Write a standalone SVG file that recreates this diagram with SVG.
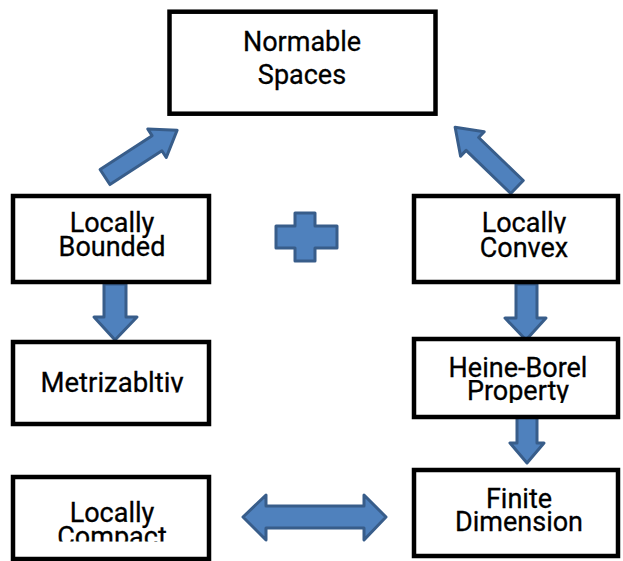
<svg xmlns="http://www.w3.org/2000/svg" width="623" height="561" viewBox="0 0 623 561">
  <style>
    .box { fill: #ffffff; stroke: #000000; stroke-width: 4.5; }
    .lbl { font-family: Roboto, "Liberation Sans", sans-serif; font-size: 27px; font-weight: 400; fill: #000000; stroke: #000000; stroke-width: 0.3; text-anchor: middle; }
    .arr { fill: #4f81bd; stroke: #385d8a; stroke-width: 3; stroke-linejoin: round; }
  </style>
  <defs>
    <clipPath id="cMet"><rect x="0" y="340" width="220" height="52.5"/></clipPath>
    <clipPath id="cHB"><rect x="410" y="380" width="213" height="23"/></clipPath>
    <clipPath id="cLC"><rect x="0" y="524" width="220" height="17.5"/></clipPath>
    <clipPath id="cLCx"><rect x="410" y="200" width="213" height="33.5"/></clipPath>
  </defs>
  <rect width="623" height="561" fill="#ffffff"/>

  <g id="connectors">
    <!-- Locally Bounded -> Normable (diagonal) -->
    <path class="arr" transform="translate(105,177) rotate(-33)" d="M0,-9 L62,-9 L62,-17 L86,0 L62,17 L62,9 L0,9 Z"/>
    <!-- Locally Convex -> Normable (diagonal) -->
    <path class="arr" transform="translate(517,187) rotate(-136)" d="M0,-9 L62,-9 L62,-17 L86,0 L62,17 L62,9 L0,9 Z"/>
    <!-- Locally Bounded -> Metrizability -->
    <path class="arr" d="M104,284 L126,284 L126,317 L137,317 L115,340 L94,317 L104,317 Z"/>
    <!-- Locally Convex -> Heine-Borel -->
    <path class="arr" d="M516,284 L537,284 L537,318 L546,318 L526,340 L505,318 L516,318 Z"/>
    <!-- Heine-Borel -> Finite Dimension -->
    <path class="arr" d="M517,415 L537,415 L537,443 L544,443 L527,463 L510,443 L517,443 Z"/>
    <!-- Locally Compact <-> Finite Dimension -->
    <path class="arr" d="M243,517 L266,495 L266,506 L364,506 L364,495 L386,517 L364,540 L364,528 L266,528 L266,540 Z"/>
    <!-- plus sign -->
    <path class="arr" d="M295,213 L315,213 L315,226 L337,226 L337,248 L315,248 L315,261 L295,261 L295,248 L276,248 L276,226 L295,226 Z"/>
  </g>

  <g id="normable">
    <rect class="box" x="169.5" y="11.7" width="266" height="102"/>
    <text class="lbl" x="302" y="51">Normable</text>
    <text class="lbl" x="302" y="84">Spaces</text>
  </g>

  <g id="locally-bounded">
    <rect class="box" x="13" y="196" width="196" height="86"/>
    <text class="lbl" x="112" y="232">Locally</text>
    <text class="lbl" x="112" y="256">Bounded</text>
  </g>

  <g id="locally-convex">
    <rect class="box" x="414" y="196" width="204" height="86"/>
    <g clip-path="url(#cLCx)"><text class="lbl" x="524" y="232">Locally</text></g>
    <text class="lbl" x="524" y="257">Convex</text>
  </g>

  <g id="metrizability">
    <rect class="box" x="13" y="342" width="196" height="82"/>
    <g clip-path="url(#cMet)"><text class="lbl" x="112" y="392" style="font-size:27.5px">Metrizabltiy</text></g>
  </g>

  <g id="heine-borel">
    <rect class="box" x="414" y="339" width="204" height="78"/>
    <text class="lbl" x="518" y="377">Heine-Borel</text>
    <g clip-path="url(#cHB)"><text class="lbl" x="518" y="400">Property</text></g>
  </g>

  <g id="locally-compact">
    <rect class="box" x="13" y="477" width="196" height="82"/>
    <text class="lbl" x="112" y="522">Locally</text>
    <g clip-path="url(#cLC)"><text class="lbl" x="112" y="546">Compact</text></g>
  </g>

  <g id="finite-dimension">
    <rect class="box" x="414" y="470" width="204" height="86"/>
    <text class="lbl" x="519" y="508">Finite</text>
    <text class="lbl" x="519" y="531">Dimension</text>
  </g>
</svg>
